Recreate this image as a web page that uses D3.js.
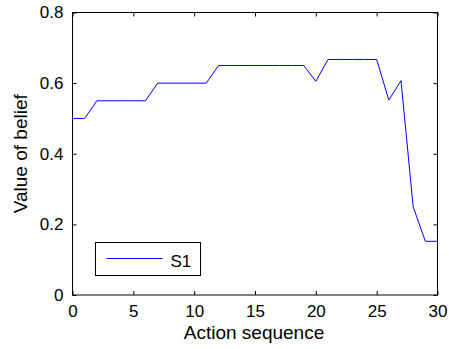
<!DOCTYPE html>
<html>
<head>
<meta charset="utf-8">
<script src="https://cdn.jsdelivr.net/npm/d3@7"></script>
<style>
  body { margin: 0; background: #fff; }
  svg { display: block; font-family: "Liberation Sans", Arial, Helvetica, sans-serif; }
</style>
</head>
<body>
<svg width="449" height="349"></svg>
<script>
// data
var steps = d3.range(0, 31);
var belief = [0.5, 0.5, 0.55, 0.55, 0.55, 0.55, 0.55, 0.6, 0.6, 0.6, 0.6, 0.6,
              0.65, 0.65, 0.65, 0.65, 0.65, 0.65, 0.65, 0.65, 0.605,
              0.667, 0.667, 0.667, 0.667, 0.667, 0.552, 0.607, 0.25, 0.152, 0.152];
var xTicks = [0, 5, 10, 15, 20, 25, 30];
var yTicks = [0, 0.2, 0.4, 0.6, 0.8];
var seriesName = "S1";

var svg = d3.select("svg");
var margin = {top: 12.5, right: 11.5, bottom: 54, left: 72.5};
var width = 449 - margin.left - margin.right,
    height = 349 - margin.top - margin.bottom;

var g = svg.append("g").attr("transform", "translate(" + margin.left + "," + margin.top + ")");

var x = d3.scaleLinear().domain([0, 30]).range([0, width]);
var y = d3.scaleLinear().domain([0, 0.8]).range([height, 0]);

var fmtY = function(d) { return d === 0 ? "0" : d3.format(".1f")(d); };

function styleAxis(sel) {
  sel.selectAll("text").attr("font-size", 17).attr("fill", "#000")
     .style("font-family", "'Liberation Sans', Arial, sans-serif");
  sel.selectAll("line").attr("stroke", "#000");
  sel.select(".domain").remove();
}

g.append("g").attr("transform", "translate(0," + height + ")")
  .call(d3.axisBottom(x).tickValues(xTicks).tickSizeInner(-4).tickSizeOuter(0).tickPadding(10))
  .call(styleAxis);
g.append("g")
  .call(d3.axisTop(x).tickValues(xTicks).tickSizeInner(-4).tickSizeOuter(0).tickFormat(""))
  .call(styleAxis);
g.append("g")
  .call(d3.axisLeft(y).tickValues(yTicks).tickSizeInner(-4).tickSizeOuter(0).tickPadding(9).tickFormat(fmtY))
  .call(styleAxis);
g.append("g").attr("transform", "translate(" + width + ",0)")
  .call(d3.axisRight(y).tickValues(yTicks).tickSizeInner(-4).tickSizeOuter(0).tickFormat(""))
  .call(styleAxis);

// box
g.append("rect").attr("width", width).attr("height", height)
  .attr("fill", "none").attr("stroke", "#000").attr("stroke-width", 1);

// line
var line = d3.line().x(function(d, i) { return x(steps[i]); }).y(function(d) { return y(d); });
g.append("path").datum(belief)
  .attr("d", line)
  .attr("fill", "none")
  .attr("stroke", "#0000ff")
  .attr("stroke-width", 1);

// axis labels
svg.append("text")
  .attr("x", margin.left + width / 2 - 1)
  .attr("y", 339)
  .attr("text-anchor", "middle")
  .attr("font-size", 19)
  .text("Action sequence");

svg.append("text")
  .attr("transform", "translate(27," + (margin.top + height / 2) + ") rotate(-90)")
  .attr("text-anchor", "middle")
  .attr("font-size", 19)
  .text("Value of belief");

// legend
var leg = svg.append("g").attr("transform", "translate(95.5,242.5)");
leg.append("rect").attr("width", 105).attr("height", 33)
  .attr("fill", "#fff").attr("stroke", "#000").attr("stroke-width", 1);
leg.append("line").attr("x1", 11).attr("x2", 67).attr("y1", 16).attr("y2", 16)
  .attr("stroke", "#0000ff").attr("stroke-width", 1);
leg.append("text").attr("x", 75).attr("y", 24.5).attr("font-size", 17).text(seriesName);
</script>
</body>
</html>
